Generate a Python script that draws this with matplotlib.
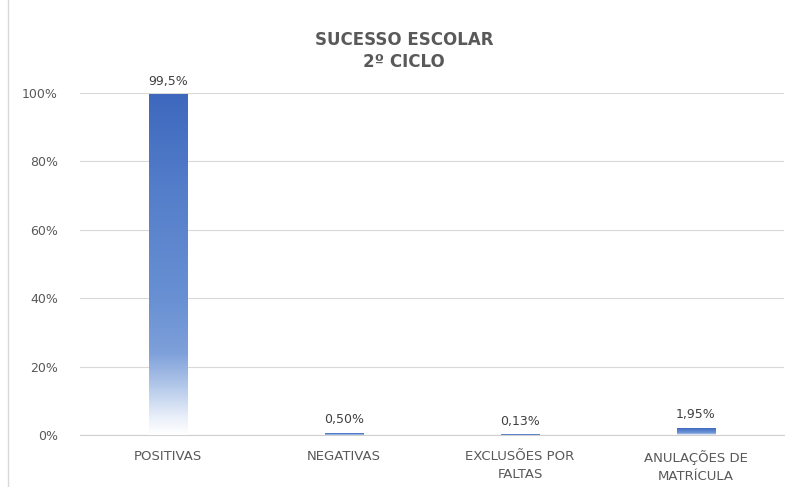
import numpy as np
import matplotlib.pyplot as plt
from matplotlib.colors import LinearSegmentedColormap
from matplotlib.ticker import PercentFormatter

categorias = ['POSITIVAS', 'NEGATIVAS', 'EXCLUSÕES POR\nFALTAS', 'ANULAÇÕES DE\nMATRÍCULA']
valores = [0.995, 0.005, 0.0013, 0.0195]
rotulos = ['99,5%', '0,50%', '0,13%', '1,95%']

cinza = '#595959'
grad = LinearSegmentedColormap.from_list(
    'azul', [(0.0, '#ffffff'), (0.05, '#eaf0f9'), (0.14, '#b4c9ea'),
             (0.24, '#7ea0da'), (0.4, '#6890d3'), (0.7, '#567fcb'), (1.0, '#3d68bd')])

fig = plt.figure(figsize=(7.9, 4.87), dpi=100)
ax = fig.add_axes([80 / 790, 1 - 435 / 487, 704 / 790, (435 - 93) / 487])

x = np.arange(len(categorias))
largura = 0.22
barras = ax.bar(x, valores, width=largura, color='none', zorder=3)

# degradê vertical dentro de cada barra
g = np.linspace(0, 1, 256).reshape(-1, 1)
for b in barras:
    x0, y0 = b.get_x(), b.get_y()
    ax.imshow(g, cmap=grad, origin='lower', aspect='auto', zorder=3,
              extent=[x0, x0 + b.get_width(), y0, y0 + b.get_height()])

for xi, v, r in zip(x, valores, rotulos):
    ax.text(xi, v + 0.02, r, ha='center', va='bottom', fontsize=9,
            color='#404040', clip_on=False)

ax.set_xlim(-0.5, len(categorias) - 0.5)
ax.set_ylim(0, 1)
ax.set_yticks(np.arange(0, 1.01, 0.2))
ax.yaxis.set_major_formatter(PercentFormatter(1.0, decimals=0))
ax.set_xticks(x)
ax.set_xticklabels(categorias, linespacing=1.5)
ax.tick_params(axis='both', length=0, labelcolor=cinza)
ax.tick_params(axis='x', pad=11, labelsize=9.5)
ax.tick_params(axis='y', pad=16, labelsize=9)
ax.grid(axis='y', color='#d9d9d9', linewidth=0.8, zorder=0)
for s in ['top', 'right', 'left']:
    ax.spines[s].set_visible(False)
ax.spines['bottom'].set_color('#d0d0d0')

fig.text(404 / 790, 1 - 40 / 487, 'SUCESSO ESCOLAR', ha='center', va='center',
         fontsize=12, fontweight='bold', color=cinza)
fig.text(404 / 790, 1 - 62 / 487, '2º CICLO', ha='center', va='center',
         fontsize=12, fontweight='bold', color=cinza)

# moldura do gráfico
fig.add_artist(plt.Line2D([8 / 790, 8 / 790], [0, 1], transform=fig.transFigure,
                          color='#d9d9d9', linewidth=1))

fig.savefig('out.png', dpi=100)
